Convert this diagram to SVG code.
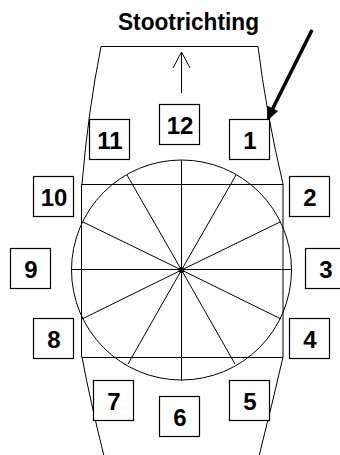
<svg xmlns="http://www.w3.org/2000/svg" width="340" height="455" viewBox="0 0 340 455">
<style>
.ln{stroke:#000;stroke-width:1;fill:none}
.bx rect{fill:#fff;stroke:#000;stroke-width:1.2}
.bx text{font-family:"Liberation Sans",Arial,sans-serif;font-weight:bold;font-size:24px;text-anchor:middle;fill:#000}
.title{font-family:"Liberation Sans",Arial,sans-serif;font-weight:bold;font-size:23px;fill:#000}
</style>
<rect width="340" height="455" fill="#fff"/>
<text class="title" x="118" y="30" textLength="141" lengthAdjust="spacingAndGlyphs">Stootrichting</text>
<g id="outline" class="ln">
<path d="M82,184 Q88,112 101,46.5 H258 Q266,112 283,184"/>
<path d="M82,357 Q90,400 104,456"/>
<path d="M283,357 Q272,405 259,456"/>
<path d="M81.5,184 V357 M283,184 V357"/>
<path d="M82,184.5 H283 M82,357.5 H283"/>
</g>
<g id="wheel" class="ln">
<circle cx="181.5" cy="270" r="110"/>
<path d="M181.5,160 V381 M71.5,269.5 H292"/>
<path d="M181.5,270 L83,222 M181.5,270 L127,175 M181.5,270 L236,175 M181.5,270 L280,222"/>
<path d="M181.5,270 L82,319 M181.5,270 L128,364 M181.5,270 L235,364 M181.5,270 L281,319"/>
<circle cx="181.5" cy="270" r="2.5" fill="#000"/>
</g>
<g id="connectors">
<path class="ln" d="M181.5,93 V52 M173,68 L181.5,52 L190,68"/>
<line x1="312" y1="30" x2="272.5" y2="109" stroke="#000" stroke-width="3.5"/>
<polygon points="267,121 267.4,105.7 278.2,111.1" fill="#000"/>
</g>
<g id="n12" class="bx"><rect x="159.5" y="104.5" width="40" height="40"/><text x="180" y="134">12</text></g>
<g id="n11" class="bx"><rect x="89.5" y="119.5" width="40" height="40"/><text x="110" y="149">11</text></g>
<g id="n1" class="bx"><rect x="229.5" y="119.5" width="40" height="40"/><text x="250" y="149">1</text></g>
<g id="n10" class="bx"><rect x="33.5" y="176.5" width="40" height="40"/><text x="54" y="206">10</text></g>
<g id="n2" class="bx"><rect x="289.5" y="176.5" width="40" height="40"/><text x="310" y="206">2</text></g>
<g id="n9" class="bx"><rect x="10.5" y="248.5" width="40" height="40"/><text x="31" y="278">9</text></g>
<g id="n3" class="bx"><rect x="305.5" y="248.5" width="40" height="40"/><text x="326" y="278">3</text></g>
<g id="n8" class="bx"><rect x="33.5" y="318.5" width="40" height="40"/><text x="54" y="348">8</text></g>
<g id="n4" class="bx"><rect x="289.5" y="318.5" width="40" height="40"/><text x="310" y="348">4</text></g>
<g id="n7" class="bx"><rect x="93.5" y="380.5" width="40" height="40"/><text x="114" y="410">7</text></g>
<g id="n5" class="bx"><rect x="229.5" y="380.5" width="40" height="40"/><text x="250" y="410">5</text></g>
<g id="n6" class="bx"><rect x="159.5" y="396.5" width="40" height="40"/><text x="180" y="426">6</text></g>
</svg>
